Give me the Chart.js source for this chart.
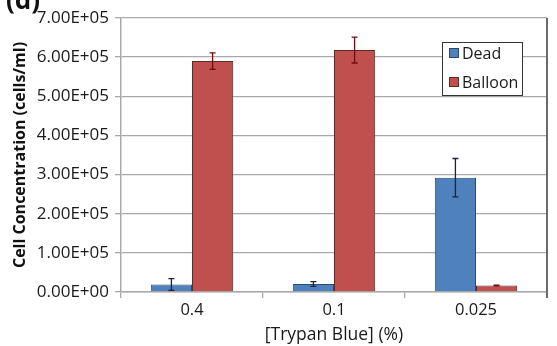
<!DOCTYPE html>
<html>
<head>
<meta charset="utf-8">
<script src="https://cdn.jsdelivr.net/npm/chart.js@4.4.1/dist/chart.umd.min.js"></script>
<style>
  html, body { margin: 0; padding: 0; background: #fff; }
  #wrap { width: 557px; height: 346px; position: relative; }
</style>
</head>
<body>
<div id="wrap"><canvas id="chart" width="557" height="346"></canvas></div>
<script>
// data
const categories = ["0.4", "0.1", "0.025"];
const deadValues = [19000, 20500, 292000];
const deadErrors = [15000, 6000, 49000];
const balloonValues = [590000, 618000, 16500];
const balloonErrors = [21000, 33000, 1000];
const yTicks = [0, 100000, 200000, 300000, 400000, 500000, 600000, 700000];

const FONT = "'Open Sans', 'DejaVu Sans', sans-serif";
const GRID = "#a9a9a9";

// 7.00E+05 style labels
function sci(v) {
    const [m, e] = Number(v).toExponential(2).split("e");
    const n = parseInt(e, 10);
    return m + "E" + (n < 0 ? "-" : "+") + String(Math.abs(n)).padStart(2, "0");
}

// error bars drawn on top of the bars
const errorBars = {
    id: "errorBars",
    afterDatasetsDraw(chart) {
        const ctx = chart.ctx;
        const y = chart.scales.y;
        chart.data.datasets.forEach((ds, i) => {
            const meta = chart.getDatasetMeta(i);
            ctx.save();
            ctx.strokeStyle = ds.errorColor;
            ctx.lineWidth = 1.3;
            meta.data.forEach((bar, j) => {
                const v = ds.data[j], e = ds.errors[j];
                const yt = y.getPixelForValue(v + e);
                const yb = y.getPixelForValue(Math.max(0, v - e));
                const x = bar.x;
                ctx.beginPath();
                ctx.moveTo(x, yt); ctx.lineTo(x, yb);
                ctx.moveTo(x - 3, yt); ctx.lineTo(x + 3, yt);
                ctx.moveTo(x - 3, yb); ctx.lineTo(x + 3, yb);
                ctx.stroke();
            });
            ctx.restore();
        });
    }
};

// boxed legend inside the plot, plus right frame and the "(d)" tag
const extras = {
    id: "extras",
    afterDraw(chart) {
        const ctx = chart.ctx;
        const a = chart.chartArea;
        ctx.save();
        // right frame line
        ctx.strokeStyle = "#6a6a6a";
        ctx.lineWidth = 2;
        ctx.beginPath();
        ctx.moveTo(a.right, a.top);
        ctx.lineTo(a.right, a.bottom + 6);
        ctx.stroke();

        // legend
        const lx = a.right - 105, ly = a.top + 24, lw = 80, lh = 53;
        ctx.fillStyle = "#fff";
        ctx.fillRect(lx, ly, lw, lh);
        ctx.strokeStyle = "#333";
        ctx.lineWidth = 1;
        ctx.strokeRect(lx + 0.5, ly + 0.5, lw, lh);
        ctx.font = "16px " + FONT;
        ctx.textBaseline = "middle";
        chart.data.datasets.forEach((ds, i) => {
            const cy = ly + 11 + i * 29;
            ctx.fillStyle = ds.backgroundColor;
            ctx.fillRect(lx + 7, cy - 5, 10, 10);
            ctx.strokeStyle = ds.borderColor;
            ctx.strokeRect(lx + 7.5, cy - 4.5, 9, 9);
            ctx.fillStyle = "#1a1a1a";
            ctx.fillText(ds.label, lx + 20, cy + 1);
        });

        // panel tag, cut off by the top edge
        ctx.font = "bold 26px " + FONT;
        ctx.textBaseline = "alphabetic";
        ctx.fillStyle = "#111";
        ctx.fillText("(d)", 6, 9);
        ctx.restore();
    }
};

new Chart(document.getElementById("chart"), {
    type: "bar",
    data: {
        labels: categories,
        datasets: [
            {
                label: "Dead",
                data: deadValues,
                errors: deadErrors,
                backgroundColor: "#4f81bd",
                borderColor: "#2b4a72",
                errorColor: "#1c2436",
                borderWidth: 1
            },
            {
                label: "Balloon",
                data: balloonValues,
                errors: balloonErrors,
                backgroundColor: "#c0504d",
                borderColor: "#5e2a28",
                errorColor: "#6e0d0d",
                borderWidth: 1
            }
        ]
    },
    options: {
        responsive: false,
        maintainAspectRatio: false,
        animation: false,
        categoryPercentage: 0.58,
        barPercentage: 1.0,
        layout: { padding: { left: 0, right: 10, top: 18, bottom: 0 } },
        plugins: {
            legend: { display: false },
            tooltip: { enabled: false }
        },
        scales: {
            x: {
                afterFit(scale) { scale.height = 54; },
                grid: { drawOnChartArea: false, drawTicks: true, tickLength: 6, color: GRID, lineWidth: 1.3 },
                border: { color: GRID, width: 1.5 },
                ticks: { color: "#1a1a1a", font: { family: FONT, size: 16.5 }, padding: 2 },
                title: {
                    display: true,
                    text: "[Trypan Blue] (%)",
                    color: "#1a1a1a",
                    font: { family: FONT, size: 17.5 },
                    padding: { top: 0, bottom: 0 }
                }
            },
            y: {
                min: 0,
                max: 700000,
                afterFit(scale) { scale.width = 121; },
                afterBuildTicks(scale) { scale.ticks = yTicks.map(v => ({ value: v })); },
                grid: { color: GRID, lineWidth: 1.3, tickLength: 6 },
                border: { color: GRID, width: 1.5 },
                ticks: {
                    color: "#1a1a1a",
                    font: { family: FONT, size: 17 },
                    padding: 6,
                    callback: (v) => sci(v)
                },
                title: {
                    display: true,
                    text: "Cell Concentration (cells/ml)",
                    color: "#111",
                    font: { family: FONT, size: 16, weight: "bold" },
                    padding: { top: 11, bottom: 0 }
                }
            }
        }
    },
    plugins: [errorBars, extras]
});
</script>
</body>
</html>
